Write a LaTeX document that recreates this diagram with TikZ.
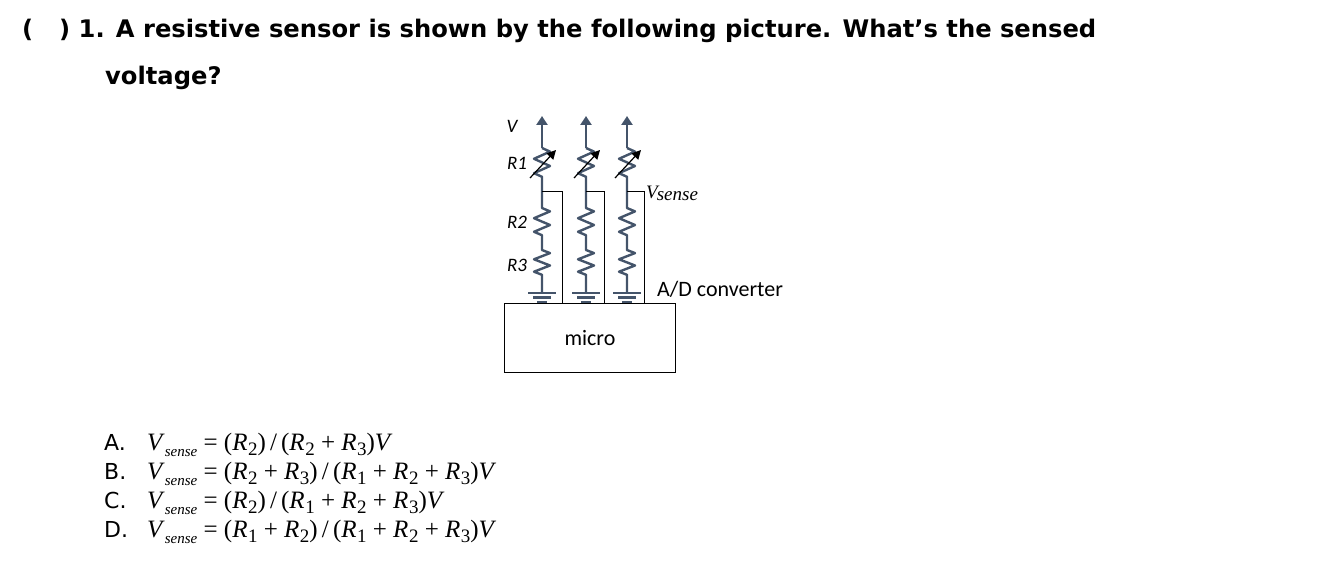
\documentclass[tikz,border=0pt]{standalone}
\usepackage{fontspec}
\setmainfont{DejaVu Sans}
\newfontfamily\tnr{Liberation Serif}
\newfontfamily\calfont{Carlito}
\newcommand\Rs[1]{\textit{R}\kern0.5pt\raisebox{-5pt}{\fontsize{19}{19}\selectfont #1}}
\usetikzlibrary{arrows.meta}
\begin{document}
\begin{tikzpicture}[x=1pt,y=-1pt,
  wire/.style={line width=2.4pt, color={rgb,255:red,68;green,84;blue,106}},
  thin/.style={draw=black, line width=0.9pt},
  lbl/.style={inner sep=0pt, font=\calfont\itshape\fontsize{19}{19}\selectfont},
  ans/.style={anchor=base west, inner sep=0pt, font=\fontsize{22}{22}\selectfont},
  frm/.style={anchor=base west, inner sep=0pt, font=\tnr\fontsize{25}{25}\selectfont}]
\useasboundingbox (0,0) rectangle (1334,588);
\node[anchor=base west,inner sep=0pt,font=\bfseries\fontsize{24.2}{24}\selectfont] (h1) at (22,38) {(\hspace{26pt}) 1. A resistive sensor is shown by the following picture. What’s the sensed};
\node[anchor=base west,inner sep=0pt,font=\bfseries\fontsize{24.2}{24}\selectfont] (h2) at (105,85) {voltage?};
% circuit
\foreach \x/\jx [count=\i] in {542/562,586/604,627/644}{
  \coordinate (top\i) at (\x,116);
  \draw[wire,-{Triangle[length=9pt,width=11pt]}] (\x,148) -- (top\i);
  \draw[wire,line join=round] (\x,148) -- ++(8,3.6) -- ++(-16,7.2) -- ++(16,7.2) -- ++(-16,7.2) -- ++(8,3.6) -- (\x,208)
    -- ++(8,3.4) -- ++(-16,6.8) -- ++(16,6.8) -- ++(-16,6.8) -- ++(8,3.4) -- (\x,250)
    -- ++(8,3.1) -- ++(-16,6.2) -- ++(16,6.2) -- ++(-16,6.2) -- ++(8,3.1) -- (\x,292);
  \draw[line width=1.2pt,-{Triangle[length=9pt,width=9pt]}] (\x-12,178) -- (\x+14,150);
  \draw[wire] (\x-14,293) -- (\x+14,293);
  \draw[wire] (\x-9,297.5) -- (\x+9,297.5);
  \draw[wire] (\x-5,302) -- (\x+5,302);
  \coordinate (j\i) at (\x,191);
  \coordinate (k\i) at (\jx,191);
  \coordinate (m\i) at (\jx,303);
  \draw[thin] (j\i) -- (k\i) -- (m\i);
}
\node[draw=black,line width=0.9pt,minimum width=171pt,minimum height=69pt,anchor=north west,inner sep=0pt] (micro) at (504,303) {};
\node[font=\calfont\fontsize{22}{22}\selectfont] at (micro.center) {micro};
\node[lbl] (V) at (512,126) {V};
\node[lbl] (R1) at (517,163) {R1};
\node[lbl] (R2) at (517,222) {R2};
\node[lbl] (R3) at (517,265) {R3};
\node[anchor=west,inner sep=0pt,font=\fontsize{19}{19}\selectfont] (vs) at (646,193) {\tnr\itshape V\kern-1pt\raisebox{-2pt}{sense}};
\node[anchor=base west,inner sep=0pt,font=\calfont\fontsize{22}{22}\selectfont] (ad) at (657,296) {A/D converter};
% answers
\foreach \l/\f/\y in {A/{(\Rs2)\,/\,(\Rs2 + \Rs3)\textit{V}}/450,
  B/{(\Rs2 + \Rs3)\,/\,(\Rs1 + \Rs2 + \Rs3)\textit{V}}/479,
  C/{(\Rs2)\,/\,(\Rs1 + \Rs2 + \Rs3)\textit{V}}/508,
  D/{(\Rs1 + \Rs2)\,/\,(\Rs1 + \Rs2 + \Rs3)\textit{V}}/537}{
  \node[ans] at (104,\y) {\l.};
  \node[frm] at (147,\y) {\textit{V}\raisebox{-6pt}{\fontsize{15}{15}\selectfont\itshape sense}\ = \f};
}
\end{tikzpicture}
\end{document}
